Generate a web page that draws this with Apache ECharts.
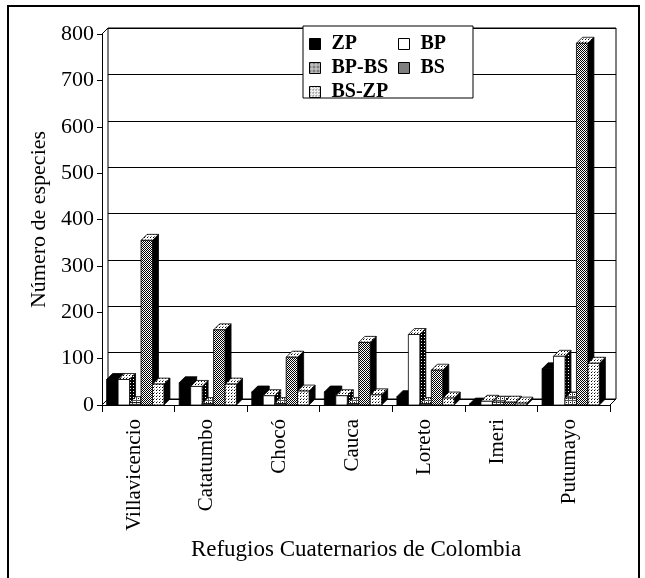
<!DOCTYPE html>
<html><head><meta charset="utf-8">
<script src="https://cdn.jsdelivr.net/npm/echarts@6/dist/echarts.min.js"></script>
<style>html,body{margin:0;padding:0;background:#fff}#c{width:645px;height:578px}</style>
</head><body><div id="c"></div>
<script>
var categories = ['Villavicencio','Catatumbo','Chocó','Cauca','Loreto','Imeri','Putumayo'];
var seriesNames = ['ZP','BP','BP-BS','BS','BS-ZP'];
var zp   = [55, 48, 28, 28, 18, 2, 78];
var bp   = [55, 40, 20, 20, 152, 8, 105];
var bpbs = [5, 3, 3, 3, 3, 6, 15];
var bs   = [355, 162, 103, 135, 75, 6, 780];
var bszp = [45, 45, 30, 22, 15, 4, 90];
var yTicks = [0,100,200,300,400,500,600,700,800];

function pat(size, draw){
  var c = document.createElement('canvas'); c.width = size; c.height = size;
  var g = c.getContext('2d'); g.fillStyle = '#fff'; g.fillRect(0,0,size,size);
  g.fillStyle = '#000'; draw(g);
  return {image: c, repeat: 'repeat'};
}
var pChecker = pat(2, function(g){ g.fillRect(0,0,1,1); g.fillRect(1,1,1,1); });
var pSquares = pat(4, function(g){ g.fillStyle='#555'; g.fillRect(0,0,4,1); g.fillRect(0,0,1,4); g.fillStyle='#000'; g.fillRect(2,2,1,1); });
var pDots = pat(3, function(g){ g.fillRect(0,0,1,1); g.fillStyle='#888'; g.fillRect(1,2,1,1); });
var pDark = pat(3, function(g){ g.fillRect(0,0,3,3); g.fillStyle='#fff'; g.fillRect(1,1,1,1); });

var styles = [
  {front:'#000', top:'#000', side:'#000'},
  {front:'#fff', top:pDots, side:pDark},
  {front:pSquares, top:pSquares, side:pDark},
  {front:pChecker, top:pDots, side:'#000'},
  {front:pDots, top:pDots, side:'#000'}
];
var values = [zp, bp, bpbs, bs, bszp];
var D = 6;

function makeRender(si){
  var st = styles[si];
  return function(params, api){
    var cat = api.value(0), val = api.value(1);
    var base = api.coord([cat, 0]);
    var top = api.coord([cat, val]);
    var cw = api.size([1, 0])[0];
    var bw = cw * 0.158;
    var x0 = base[0] - (5*bw + D)/2 + si*bw;
    var x1 = x0 + bw;
    var y0 = base[1], y1 = top[1];
    return {type:'group', children:[
      {type:'polygon', shape:{points:[[x1,y0],[x1+D,y0-D],[x1+D,y1-D],[x1,y1]]}, style:{fill:st.side, stroke:'#000', lineWidth:0.8}},
      {type:'polygon', shape:{points:[[x0,y1],[x0+D,y1-D],[x1+D,y1-D],[x1,y1]]}, style:{fill:st.top, stroke:'#000', lineWidth:0.8}},
      {type:'rect', shape:{x:x0, y:y1, width:bw, height:y0-y1}, style:{fill:st.front, stroke:'#000', lineWidth:0.8}}
    ]};
  };
}

var series = seriesNames.map(function(n, i){
  return {
    name: n, type: 'custom', xAxisIndex: 0, yAxisIndex: 0,
    renderItem: makeRender(i),
    itemStyle: {color: i === 1 ? '#fff' : styles[i].front},
    encode: {x: 0, y: 1},
    data: values[i].map(function(v, k){ return [k, v]; }),
    z: 5
  };
});

var serif = 'Liberation Serif';
var legendText = {fontFamily: serif, fontSize: 20, fontWeight: 'bold', color: '#000', padding: [0,0,0,6]};
function legItem(n){
  var i = seriesNames.indexOf(n);
  return {name: n, icon: 'rect', itemStyle: {color: styles[i].front, borderColor: '#000', borderWidth: 1}};
}

var chart = echarts.init(document.getElementById('c'), null, {renderer: 'canvas'});
chart.setOption({
  animation: false,
  backgroundColor: '#fff',
  grid: [
    {left: 102, top: 34, width: 508, height: 371},
    {left: 108, top: 28, width: 508, height: 371, show: true, borderColor: '#000', borderWidth: 1}
  ],
  legend: [
    {left: 309, top: 34, padding: 0, orient: 'vertical', itemWidth: 11, itemHeight: 11, itemGap: 4, z: 10,
     textStyle: legendText, data: ['ZP','BP-BS','BS-ZP'].map(legItem), selectedMode: false},
    {left: 398, top: 34, padding: 0, orient: 'vertical', itemWidth: 11, itemHeight: 11, itemGap: 4, z: 10,
     textStyle: legendText, data: ['BP','BS'].map(legItem), selectedMode: false}
  ],
  xAxis: [
    {type: 'category', gridIndex: 0, data: categories, boundaryGap: true,
     axisLine: {show: true, lineStyle: {color: '#000', width: 1}},
     axisTick: {show: true, length: 7, lineStyle: {color: '#000'}},
     axisLabel: {rotate: 90, margin: 14, color: '#000', fontFamily: serif, fontSize: 21,
       verticalAlign: 'bottom', lineHeight: 8},
     name: 'Refugios Cuaternarios de Colombia', nameLocation: 'middle', nameGap: 122,
     nameTextStyle: {fontFamily: serif, fontSize: 23, color: '#000'}},
    {type: 'category', gridIndex: 1, data: categories, show: false}
  ],
  yAxis: [
    {type: 'value', gridIndex: 0, min: 0, max: 800, interval: 100,
     axisLine: {show: true, lineStyle: {color: '#000', width: 1}},
     axisTick: {show: true, length: 5, inside: false, lineStyle: {color: '#000'}},
     axisLabel: {color: '#000', fontFamily: serif, fontSize: 22, margin: 8,
       customValues: yTicks},
     splitLine: {show: false},
     name: 'Número de especies', nameLocation: 'middle', nameGap: 52, nameRotate: 90,
     nameTextStyle: {fontFamily: serif, fontSize: 22, color: '#000'}},
    {type: 'value', gridIndex: 1, min: 0, max: 800, interval: 100,
     axisLine: {show: false}, axisTick: {show: false}, axisLabel: {show: false},
     splitLine: {show: true, lineStyle: {color: '#000', width: 1}}}
  ],
  graphic: [
    {type: 'rect', shape: {x: 8, y: 6, width: 631, height: 600}, style: {fill: null, stroke: '#000', lineWidth: 2}, z: 100, silent: true},
    {type: 'line', shape: {x1: 102, y1: 405, x2: 108, y2: 399}, style: {stroke: '#000', lineWidth: 1}, z: 1},
    {type: 'line', shape: {x1: 610, y1: 405, x2: 616, y2: 399}, style: {stroke: '#000', lineWidth: 1}, z: 1},
    {type: 'line', shape: {x1: 102, y1: 34, x2: 108, y2: 28}, style: {stroke: '#000', lineWidth: 1}, z: 1},
    {type: 'rect', shape: {x: 303, y: 26, width: 170, height: 72}, style: {fill: '#fff', stroke: '#000', lineWidth: 1}, z: 3}
  ],
  series: series
});
</script></body></html>
